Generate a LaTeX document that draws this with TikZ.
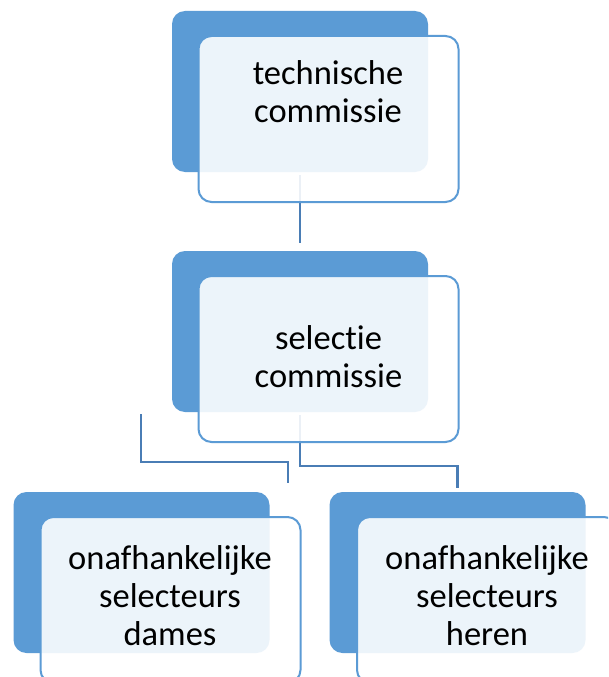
\documentclass[tikz,border=0pt]{standalone}
\usepackage{fontspec}
\setmainfont{Carlito}[Ligatures=NoCommon]
\definecolor{accent}{HTML}{5B9BD5}
\definecolor{conn}{HTML}{4A7DB5}
\tikzset{
  bluebox/.style={rectangle, rounded corners=13pt, fill=accent, draw=none,
    minimum width=256pt, minimum height=161pt, inner sep=0pt},
  outbox/.style={rectangle, rounded corners=13pt, draw=accent, line width=2pt,
    fill=white, fill opacity=0.89, draw opacity=1,
    minimum width=260pt, minimum height=166pt, inner sep=0pt},
  lbl/.style={align=center, inner sep=0pt, text=black,
    font=\fontsize{34.5}{38}\selectfont, anchor=base},
  link/.style={draw=conn, line width=2.5pt}
}
\begin{document}
\begin{tikzpicture}[x=1pt, y=-1pt]
\clip (0,0) rectangle (608,677);
\fill[white] (0,0) rectangle (608,677);
% blue boxes
\node[bluebox] (b1) at (300,91.5) {};
\node[bluebox] (b2) at (300,331.5) {};
\node[bluebox] (b3) at (141.5,572.5) {};
\node[bluebox] (b4) at (457.5,572.5) {};
% connectors
\coordinate (lc1) at (141,414);
\coordinate (lc2) at (288,483);
\draw[link, shorten <=3pt, shorten >=8pt] (b1.south) -- (b2.north);
\draw[link] (lc1) -- ++(0,48) -| (lc2);
\draw[link, shorten <=3pt] (b2.south) -- ++(0,54) -| ([yshift=4pt]b4.north);
% outline boxes
\node[outbox] (o1) at (328.5,119) {};
\node[outbox] (o2) at (328.5,359) {};
\node[outbox] (o3) at (170.5,600) {};
\node[outbox] (o4) at (487,600) {};
% texts (anchor = baseline of last line)
\node[lbl] (t1) at (328,122) {technische\\commissie};
\node[lbl] (t2) at (328.5,387) {selectie\\commissie};
\node[lbl] (t3) at (170,645) {onafhankelijke\\selecteurs\\dames};
\node[lbl] (t4) at (487,645) {onafhankelijke\\selecteurs\\heren};
\end{tikzpicture}
\end{document}
